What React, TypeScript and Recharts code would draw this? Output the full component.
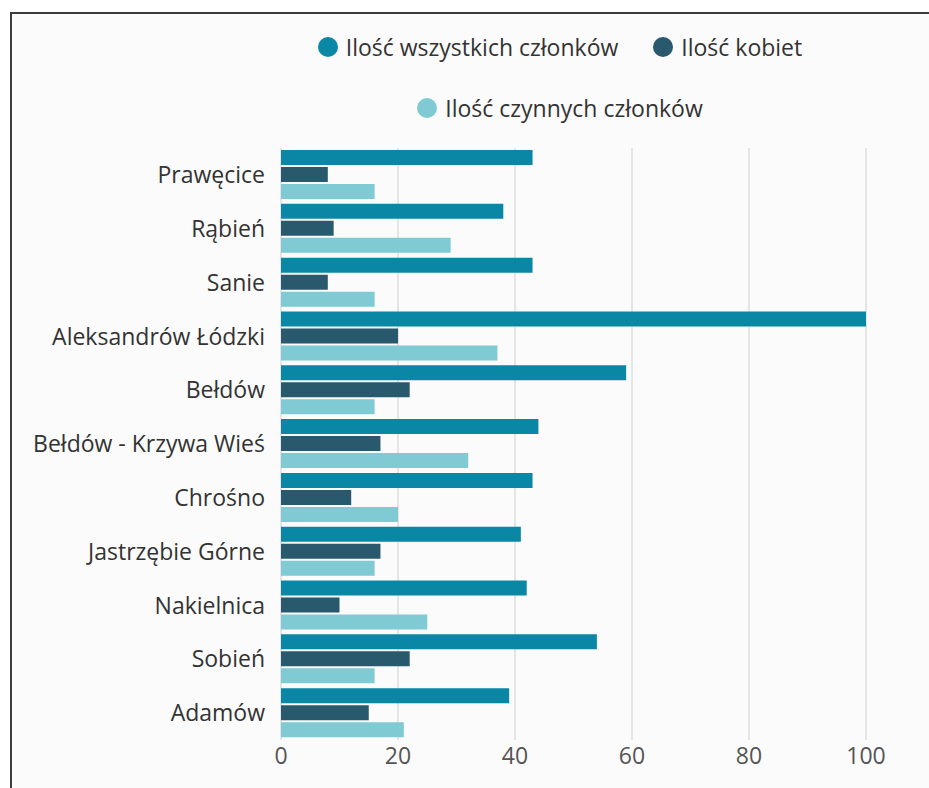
import React from "react";
import { BarChart, Bar, XAxis, YAxis, CartesianGrid, Legend } from "recharts";

const categories = [
  "Prawęcice",
  "Rąbień",
  "Sanie",
  "Aleksandrów Łódzki",
  "Bełdów",
  "Bełdów - Krzywa Wieś",
  "Chrośno",
  "Jastrzębie Górne",
  "Nakielnica",
  "Sobień",
  "Adamów",
];
const allMembers = [43, 38, 43, 100, 59, 44, 43, 41, 42, 54, 39];
const women = [8, 9, 8, 20, 22, 17, 12, 17, 10, 22, 15];
const activeMembers = [16, 29, 16, 37, 16, 32, 20, 16, 25, 16, 21];
const xTicks = [0, 20, 40, 60, 80, 100];

const seriesNames = {
  all: "Ilość wszystkich członków",
  women: "Ilość kobiet",
  active: "Ilość czynnych członków",
};
const legendOrder = ["all", "women", "active"];

const data = categories.map((name, i) => ({
  name,
  all: allMembers[i],
  women: women[i],
  active: activeMembers[i],
}));

const FONT = "'Open Sans', 'Noto Sans', sans-serif";
const LEGEND_H = 110;

const LegendContent = (props: any) => {
  const payload = [...(props.payload || [])].sort(
    (a: any, b: any) => legendOrder.indexOf(a.dataKey) - legendOrder.indexOf(b.dataKey)
  );
  return (
    <div
      style={{
        height: LEGEND_H,
        display: "flex",
        flexWrap: "wrap",
        justifyContent: "center",
        alignContent: "flex-start",
        columnGap: 35,
        rowGap: 31,
        fontFamily: FONT,
        fontSize: 23,
        color: "#333",
      }}
    >
      {payload.map((p: any) => (
        <div key={p.value} style={{ display: "flex", alignItems: "center", height: 30 }}>
          <span
            style={{
              display: "inline-block",
              width: 20,
              height: 20,
              borderRadius: "50%",
              background: p.color,
              marginRight: 8,
            }}
          />
          <span>{p.value}</span>
        </div>
      ))}
    </div>
  );
};

export default function App() {
  return (
    <div
      style={{
        position: "absolute",
        left: 0,
        top: 0,
        width: 929,
        height: 788,
        background: "#fff",
        overflow: "hidden",
      }}
    >
      <div
        style={{
          position: "absolute",
          left: 10,
          top: 12,
          right: 0,
          bottom: 0,
          borderTop: "2px solid #3c3c3c",
          borderLeft: "2px solid #3c3c3c",
          background: "#fbfbfb",
        }}
      />
      <div style={{ position: "absolute", left: 0, top: 0 }}>
        <BarChart
          width={929}
          height={788}
          layout="vertical"
          data={data}
          margin={{ top: 148 - LEGEND_H, right: 63, bottom: 0, left: 0 }}
          barSize={15}
          barGap={2}
        >
          <CartesianGrid horizontal={false} stroke="#dedede" strokeWidth={1.5} />
          <XAxis
            type="number"
            domain={[0, 100]}
            ticks={xTicks}
            axisLine={false}
            tickLine={false}
            tickSize={0}
            tickMargin={8}
            height={48}
            tick={{ fill: "#555", fontSize: 23, fontFamily: FONT }}
          />
          <YAxis
            type="category"
            dataKey="name"
            width={281}
            axisLine={false}
            tickLine={false}
            tickSize={0}
            tickMargin={16}
            interval={0}
            tick={{ fill: "#333", fontSize: 23, fontFamily: FONT }}
          />
          <Legend
            verticalAlign="top"
            content={<LegendContent />}
            wrapperStyle={{ top: 32, left: 290, width: 540 }}
          />
          <Bar dataKey="all" name={seriesNames.all} fill="#0b87a6" isAnimationActive={false} />
          <Bar dataKey="women" name={seriesNames.women} fill="#28596c" isAnimationActive={false} />
          <Bar dataKey="active" name={seriesNames.active} fill="#7fcad3" isAnimationActive={false} />
        </BarChart>
      </div>
    </div>
  );
}
